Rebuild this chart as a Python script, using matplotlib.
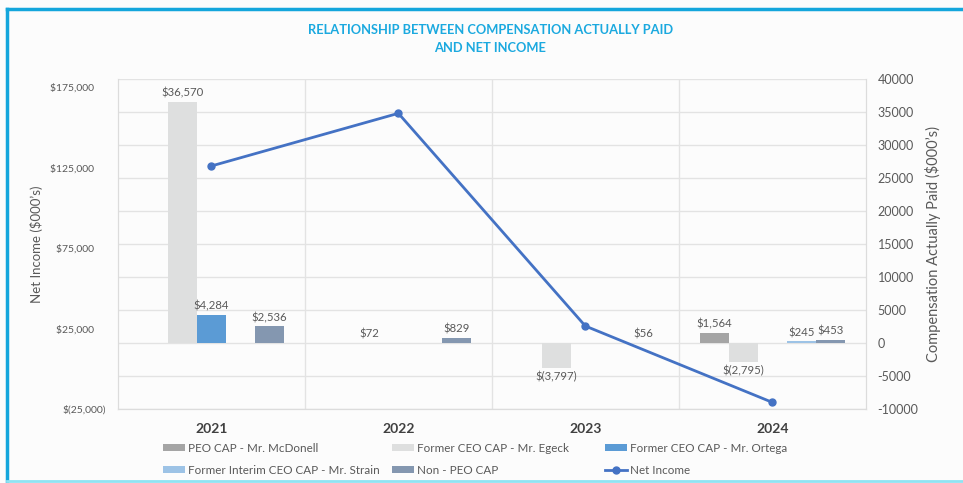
import numpy as np
import matplotlib.pyplot as plt
from matplotlib.lines import Line2D

plt.rcParams['font.family'] = ['Lato', 'DejaVu Sans']

years = ['2021', '2022', '2023', '2024']
peo_mcdonell = [np.nan, np.nan, np.nan, 1564]
former_egeck = [36570, 72, -3797, -2795]
former_ortega = [4284, np.nan, np.nan, np.nan]
interim_strain = [np.nan, np.nan, np.nan, 245]
non_peo = [2536, 829, 56, 453]
net_income = [126000, 158700, 26600, -20800]

series = [
    ('PEO CAP - Mr. McDonell', peo_mcdonell, '#A5A5A5'),
    ('Former CEO CAP - Mr. Egeck', former_egeck, '#DEDFDF'),
    ('Former CEO CAP - Mr. Ortega', former_ortega, '#5B9BD5'),
    ('Former Interim CEO CAP - Mr. Strain', interim_strain, '#9DC3E6'),
    ('Non - PEO CAP', non_peo, '#8497B0'),
]

txt = '#595959'
fig = plt.figure(figsize=(9.63, 4.83), dpi=100)
fig.patch.set_facecolor('#FCFCFC')

# frame round the picture
fig.add_artist(Line2D([0.0068, 1.0], [0.982, 0.982], color='#14A6DC', lw=2.5))
fig.add_artist(Line2D([0.0072, 0.0072], [0.0045, 0.982], color='#14A6DC', lw=2.5))
fig.add_artist(Line2D([0.0068, 1.0], [0.004, 0.004], color='#8FE3F2', lw=2))

fig.text(0.509, 0.919, 'RELATIONSHIP BETWEEN COMPENSATION ACTUALLY PAID\nAND NET INCOME',
         ha='center', va='center', color='#1BA9DF', fontsize=9.3, fontweight='bold',
         linespacing=1.55)

ax1 = fig.add_axes([0.1225, 0.153, 0.7765, 0.6834])
ax1.set_facecolor('none')
ax2 = ax1.twinx()
ax1.set_zorder(ax2.get_zorder() + 1)

x = np.arange(len(years))
w = 0.155
handles = []
for i, (name, vals, col) in enumerate(series):
    pos = x + (i - 2) * w
    b = ax2.bar(pos, vals, width=w, color=col, label=name, zorder=3)
    handles.append(b)
    for xp, v in zip(pos, vals):
        if np.isnan(v):
            continue
        lab = f'${v:,.0f}' if v >= 0 else f'$({-v:,.0f})'
        off = 500 if v >= 0 else -500
        ax2.text(xp, v + off, lab, ha='center', va='bottom' if v >= 0 else 'top',
                 fontsize=8.2, color=txt, zorder=4)

ln, = ax1.plot(x, net_income, color='#4472C4', lw=2, marker='o', ms=5,
               label='Net Income', zorder=5)

ax2.set_ylim(-10000, 40000)
ax2.set_yticks(np.arange(-10000, 40001, 5000))
ax2.yaxis.set_major_formatter(plt.FuncFormatter(lambda v, p: f'{v:.0f}'))
ax2.grid(axis='y', color='#E3E3E3', lw=1, zorder=0)
ax2.set_ylabel("Compensation Actually Paid ($000\u2019s)", color=txt, fontsize=10.5, labelpad=5)

ax1.set_ylim(-25000, 180000)
ax1.set_yticks(np.arange(-25000, 175001, 50000))
ax1.yaxis.set_major_formatter(plt.FuncFormatter(
    lambda v, p: f'${v:,.0f}\u2007\u2007' if v >= 0 else f'$({-v:,.0f})'))
ax1.set_ylabel("Net Income ($000\u2019s)", color=txt, fontsize=9.5, labelpad=5)

ax1.set_xlim(-0.5, 3.5)
ax1.set_xticks(x)
ax1.set_xticklabels(years, fontweight='bold', color='#404040')
for b in [0.5, 1.5, 2.5]:
    ax2.axvline(b, color='#E3E3E3', lw=1, zorder=0)

for a in (ax1, ax2):
    a.tick_params(length=0, labelcolor=txt)
    for s in a.spines.values():
        s.set_color('#DCDCDC')
    a.spines['top'].set_visible(False)
ax1.tick_params(axis='x', pad=10, labelsize=10, labelcolor='#404040')
ax1.tick_params(axis='y', pad=8.6, labelsize=7.5)
ax2.tick_params(axis='y', pad=8.5, labelsize=9)

# legend: three columns placed like the original
cols = [([handles[0], handles[3]], 0.1693),
        ([handles[1], handles[4]], 0.407),
        ([handles[2], ln], 0.628)]
for hs, xa in cols:
    fig.legend(hs, [h.get_label() for h in hs], loc='upper left',
               bbox_to_anchor=(xa, 0.0835), frameon=False, fontsize=8.4,
               labelcolor=txt, handlelength=1.9, handleheight=0.5,
               handletextpad=0.25, labelspacing=0.95, borderpad=0,
               borderaxespad=0)

fig.savefig('out.png', dpi=100, facecolor=fig.get_facecolor())
